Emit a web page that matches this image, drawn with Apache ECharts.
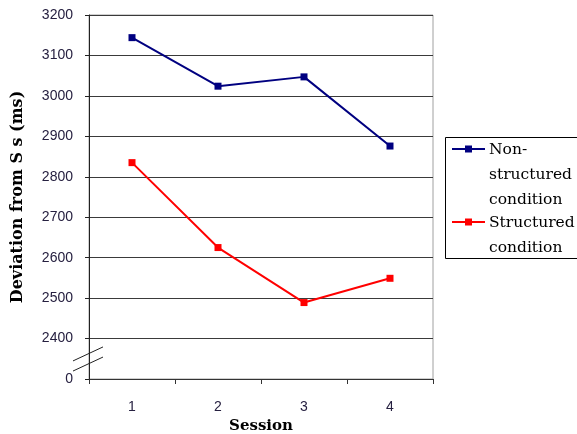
<!DOCTYPE html>
<html>
<head>
<meta charset="utf-8">
<script src="https://cdn.jsdelivr.net/npm/echarts@6/dist/echarts.min.js"></script>
<style>
  html, body { margin: 0; padding: 0; background: #fff; }
  #chart { width: 577px; height: 434px; }
</style>
</head>
<body>
<div id="chart"></div>
<script>
// values
const sessions = ['1', '2', '3', '4'];
const nonStructured = [3144, 3024, 3047, 2876];
const structured = [2835, 2625, 2489, 2549];
const seriesNames = ['Non-structured condition', 'Structured condition'];
const legendLines = [['Non-', 'structured', 'condition'], ['Structured', 'condition']];
const seriesColors = ['#000080', '#ff0000'];

// the y axis is broken: the bottom slot (2300) is shown as 0
const yMin = 2300;
const yMax = 3200;
const yStep = 100;

const labelColor = '#262040';
const serif = '"DejaVu Serif", serif';

const chart = echarts.init(document.getElementById('chart'));

const series = [nonStructured, structured].map((vals, i) => ({
  name: seriesNames[i],
  type: 'line',
  data: vals,
  symbol: 'rect',
  symbolSize: 7,
  lineStyle: { color: seriesColors[i], width: 2 },
  itemStyle: { color: seriesColors[i] },
  animation: false
}));

const option = {
  animation: false,
  grid: {
    left: 89, right: 144, top: 15, bottom: 55,
    outerBoundsMode: 'none',
    show: true, borderColor: '#a0a0a0', borderWidth: 1
  },
  xAxis: {
    type: 'category',
    data: sessions,
    boundaryGap: true,
    name: 'Session',
    nameLocation: 'middle',
    nameGap: 40,
    nameTextStyle: { fontFamily: serif, fontWeight: 'bold', fontSize: 15, color: '#000' },
    axisLine: { lineStyle: { color: '#333', width: 1 } },
    axisTick: { show: true, length: 5, lineStyle: { color: '#333' } },
    axisLabel: { margin: 21, fontFamily: 'Liberation Sans', fontSize: 14, color: labelColor }
  },
  yAxis: {
    type: 'value',
    min: yMin,
    max: yMax,
    interval: yStep,
    name: 'Deviation from S s (ms)',
    nameLocation: 'middle',
    nameGap: 63,
    nameTextStyle: { fontFamily: serif, fontWeight: 'bold', fontSize: 16, color: '#000' },
    axisLine: { show: true, lineStyle: { color: '#222', width: 1 } },
    axisTick: { show: true, length: 4, lineStyle: { color: '#222' } },
    axisLabel: {
      margin: 16,
      fontFamily: 'Liberation Sans',
      fontSize: 14,
      color: labelColor,
      formatter: v => (v === yMin ? '0' : String(v))
    },
    splitLine: { show: true, lineStyle: { color: '#3a3a3a', width: 1 } }
  },
  series: series
};

chart.setOption(option);

// axis break marks and the legend box, placed from the grid
const axisX = chart.convertToPixel({ xAxisIndex: 0 }, sessions[0]) - 43;
const breakA = chart.convertToPixel({ yAxisIndex: 0 }, 2362);
const breakB = chart.convertToPixel({ yAxisIndex: 0 }, 2337);
const breakLine = (y) => ({
  type: 'line',
  shape: { x1: axisX - 16, y1: y + 7, x2: axisX + 14, y2: y - 7 },
  style: { stroke: '#222', lineWidth: 1 },
  z: 10
});

const legendX = 445;
const legendY = 137;
const graphics = [
  breakLine(breakA),
  breakLine(breakB),
  {
    type: 'rect',
    shape: { x: legendX + 0.5, y: legendY + 0.5, width: 160, height: 121 },
    style: { fill: '#fff', stroke: '#000', lineWidth: 1 },
    z: 10
  }
];
let rowY = legendY + 12;
legendLines.forEach((lines, i) => {
  graphics.push({
    type: 'line',
    shape: { x1: legendX + 7, y1: rowY, x2: legendX + 40, y2: rowY },
    style: { stroke: seriesColors[i], lineWidth: 2 },
    z: 11
  });
  graphics.push({
    type: 'rect',
    shape: { x: legendX + 20, y: rowY - 3.5, width: 7, height: 7 },
    style: { fill: seriesColors[i] },
    z: 11
  });
  graphics.push({
    type: 'text',
    x: legendX + 44,
    y: rowY - 12,
    style: {
      text: lines.join('\n'),
      font: '15.5px ' + serif,
      lineHeight: 25,
      fill: '#000',
      verticalAlign: 'top'
    },
    z: 11
  });
  rowY += lines.length * 25 - 2;
});

chart.setOption({ graphic: graphics });
</script>
</body>
</html>
